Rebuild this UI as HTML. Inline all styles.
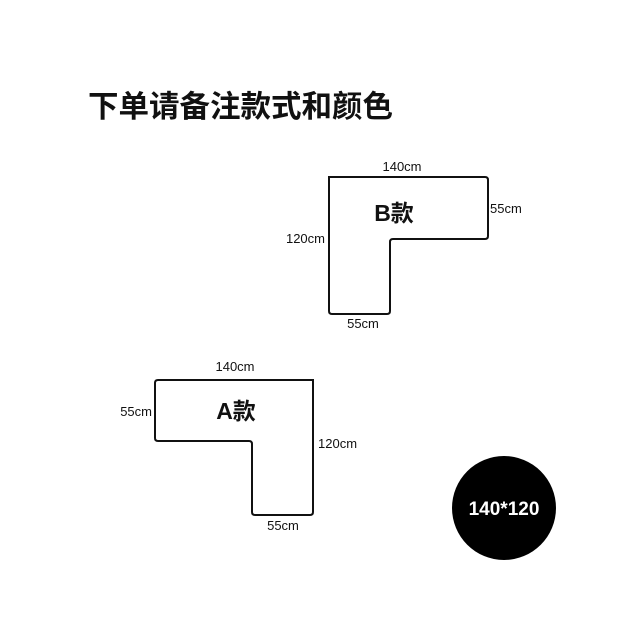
<!DOCTYPE html>
<html><head><meta charset="utf-8"><style>
body{margin:0;width:640px;height:640px;background:#fff;overflow:hidden}
svg{display:block}
text{font-family:"Liberation Sans","Noto Sans CJK SC",sans-serif;fill:#111}
</style></head><body>
<svg width="640" height="640" viewBox="0 0 640 640">
<text x="88" y="117" font-size="30.5" font-weight="bold" font-family="Noto Sans CJK SC, sans-serif">下单请备注款式和颜色</text>
<path d="M331,177 H485 Q488,177 488,180 V236 Q488,239 485,239 H393 Q390,239 390,242 V311 Q390,314 387,314 H332 Q329,314 329,311 V177 Z" fill="none" stroke="#111" stroke-width="2"/>
<text x="402" y="171" font-size="13" text-anchor="middle">140cm</text>
<text x="490" y="213" font-size="13">55cm</text>
<text x="325" y="243" font-size="13" text-anchor="end">120cm</text>
<text x="363" y="328" font-size="13" text-anchor="middle">55cm</text>
<text x="394" y="221" font-size="23" font-weight="bold" text-anchor="middle">B款</text>
<path d="M158,380 H313 V512 Q313,515 310,515 H255 Q252,515 252,512 V444 Q252,441 249,441 H158 Q155,441 155,438 V383 Q155,380 158,380 Z" fill="none" stroke="#111" stroke-width="2"/>
<text x="235" y="371" font-size="13" text-anchor="middle">140cm</text>
<text x="152" y="416" font-size="13" text-anchor="end">55cm</text>
<text x="236" y="419" font-size="23" font-weight="bold" text-anchor="middle">A款</text>
<text x="318" y="448" font-size="13">120cm</text>
<text x="283" y="530" font-size="13" text-anchor="middle">55cm</text>
<circle cx="504" cy="508" r="52" fill="#000"/>
<text x="504" y="515" font-size="19" font-weight="bold" text-anchor="middle" style="fill:#fff">140*120</text>
</svg>
</body></html>
